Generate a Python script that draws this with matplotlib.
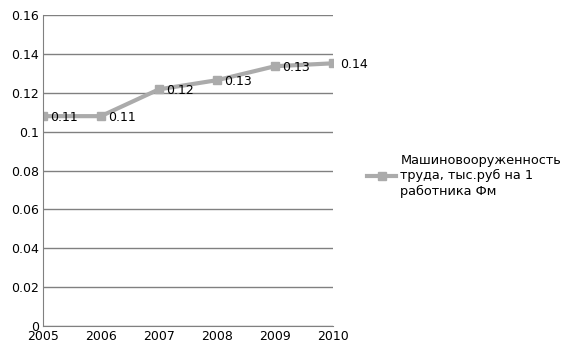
import matplotlib.pyplot as plt

years = [2005, 2006, 2007, 2008, 2009, 2010]
values = [0.108, 0.108, 0.1218, 0.1265, 0.1337, 0.1352]
labels = ["0.11", "0.11", "0.12", "0.13", "0.13", "0.14"]
series_name = "Машиновооруженность\nтруда, тыс.руб на 1\nработника Фм"

fig = plt.figure(figsize=(5.72, 3.52), dpi=100)
ax = fig.add_axes([0.075, 0.074, 0.507, 0.883])

ax.plot(years, values, color="#ababab", linewidth=3, marker="s", markersize=6,
        label=series_name)
for x, y, t in zip(years, values, labels):
    ax.annotate(t, (x, y), xytext=(5, -1), textcoords="offset points",
                va="center", ha="left", fontsize=9, color="black")

ax.set_xlim(2005, 2010)
ax.set_ylim(0, 0.16)
ax.set_yticks([0, 0.02, 0.04, 0.06, 0.08, 0.1, 0.12, 0.14, 0.16])
ax.set_yticklabels(["0", "0.02", "0.04", "0.06", "0.08", "0.1", "0.12", "0.14", "0.16"])
ax.set_xticks(years)
ax.grid(axis="y", color="#808080", linewidth=1)
ax.set_axisbelow(True)
for s in ["top", "right"]:
    ax.spines[s].set_visible(False)
for s in ["left", "bottom"]:
    ax.spines[s].set_color("#808080")
ax.tick_params(length=0, labelsize=9, pad=3)

leg = fig.legend(loc="center left", bbox_to_anchor=(0.632, 0.5), frameon=False,
                 fontsize=9.3, handlelength=2.3, handletextpad=0.3, borderaxespad=0)
for t in leg.get_texts():
    t.set_linespacing(1.25)
fig.savefig("out.png", dpi=100)
